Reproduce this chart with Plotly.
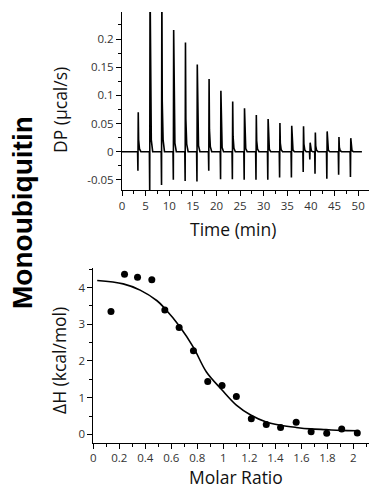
import plotly.graph_objects as go

# ---------------- Data ----------------
# Thermogram: injection events (time in min), peak maxima and troughs (µcal/s)
inj_time = [3.4, 5.9, 8.4, 10.9, 13.4, 15.9, 18.4, 20.9, 23.4, 25.9, 28.4,
            30.9, 33.4, 35.9, 38.4, 39.8, 40.9, 43.4, 45.9, 48.4]
peak_top = [0.070, 0.300, 0.300, 0.216, 0.194, 0.155, 0.129, 0.108, 0.089, 0.077, 0.065,
            0.058, 0.051, 0.046, 0.045, 0.016, 0.034, 0.036, 0.026, 0.024]
peak_low = [-0.034, -0.075, -0.059, -0.050, -0.052, -0.053, -0.034, -0.049, -0.049, -0.050, -0.050,
            -0.050, -0.046, -0.046, -0.036, -0.014, -0.039, -0.048, -0.041, -0.045]
trace_start, trace_end = 0.0, 50.8

# Integrated heats
molar_ratio = [0.136, 0.24, 0.34, 0.45, 0.55, 0.66, 0.77, 0.88, 0.99, 1.10,
               1.215, 1.33, 1.44, 1.56, 1.675, 1.795, 1.91, 2.03]
delta_h = [3.35, 4.36, 4.28, 4.21, 3.39, 2.91, 2.28, 1.44, 1.33, 1.03,
           0.43, 0.27, 0.19, 0.33, 0.07, 0.03, 0.15, 0.04]

# Fitted curve
fit_x = [0.03, 0.23, 0.36, 0.49, 0.55, 0.66, 0.77, 0.87, 0.99, 1.10,
         1.21, 1.33, 1.44, 1.56, 1.67, 1.79, 1.90, 2.03]
fit_y = [4.19, 4.10, 3.93, 3.64, 3.43, 2.96, 2.37, 1.70, 1.21, 0.80,
         0.53, 0.34, 0.25, 0.19, 0.15, 0.13, 0.11, 0.10]

top_xticks = [0, 5, 10, 15, 20, 25, 30, 35, 40, 45, 50]
top_yticks = [-0.05, 0, 0.05, 0.1, 0.15, 0.2]
top_ytext = ["-0.05", "0", "0.05", "0.1", "0.15", "0.2"]
bot_xticks = [0, 0.2, 0.4, 0.6, 0.8, 1, 1.2, 1.4, 1.6, 1.8, 2]
bot_xtext = ["0", "0.2", "0.4", "0.6", "0.8", "1", "1.2", "1.4", "1.6", "1.8", "2"]
bot_yticks = [0, 1, 2, 3, 4]

# ---------------- Build thermogram polyline from peak events ----------------
tx, ty = [trace_start], [0.0]
for t, hi, lo in zip(inj_time, peak_top, peak_low):
    tx += [t - 0.1, t - 0.03, t + 0.04, t + 0.12, t + 0.3, t + 0.6]
    ty += [0.0, lo, hi, hi * 0.3, hi * 0.07, 0.0]
tx.append(trace_end)
ty.append(0.0)

W, H = 369, 490
def px(x): return x / W
def py(y): return 1 - y / H

fig = go.Figure()
fig.add_trace(go.Scatter(x=tx, y=ty, mode="lines", line=dict(color="black", width=1.6),
                         xaxis="x", yaxis="y", showlegend=False, hoverinfo="skip"))
fig.add_trace(go.Scatter(x=fit_x, y=fit_y, mode="lines", line=dict(color="black", width=1.6, shape="spline"),
                         xaxis="x2", yaxis="y2", showlegend=False))
fig.add_trace(go.Scatter(x=molar_ratio, y=delta_h, mode="markers",
                         marker=dict(color="black", size=7),
                         xaxis="x2", yaxis="y2", showlegend=False))

tickfont = dict(family="Open Sans", size=11.5, color="#333333")
common = dict(showline=True, linecolor="black", linewidth=1, ticks="outside", ticklen=5,
              tickcolor="black", tickwidth=1, showgrid=False, zeroline=False,
              tickfont=tickfont, automargin=False)

fig.update_layout(
    width=W, height=H, margin=dict(l=0, r=0, t=0, b=0),
    paper_bgcolor="white", plot_bgcolor="white",
    xaxis=dict(domain=[px(122), 1], range=[0, 52.3], anchor="y",
               tickvals=top_xticks, ticktext=[str(v) for v in top_xticks],
               minor=dict(ticks="outside", ticklen=3, dtick=2.5, tick0=0, tickcolor="black"),
               **common),
    yaxis=dict(domain=[py(190), py(12)], range=[-0.068, 0.248], anchor="x",
               tickvals=top_yticks, ticktext=top_ytext,
               minor=dict(ticks="outside", ticklen=3, dtick=0.025, tick0=0, tickcolor="black"),
               **common),
    xaxis2=dict(domain=[px(93.3), 1], range=[0, 2.12], anchor="y2",
                tickvals=bot_xticks, ticktext=bot_xtext,
                minor=dict(ticks="outside", ticklen=3, dtick=0.1, tick0=0, tickcolor="black"),
                **common),
    yaxis2=dict(domain=[py(442.5), py(267.7)], range=[-0.22, 4.54], anchor="x2",
                tickvals=bot_yticks, ticktext=[str(v) for v in bot_yticks],
                minor=dict(ticks="outside", ticklen=3, dtick=0.5, tick0=0, tickcolor="black"),
                **common),
)

titlefont = dict(family="Open Sans", size=17.5, color="#111111")
ann = [
    dict(text="Time (min)", x=px(233), y=py(229), textangle=0),
    dict(text="Molar Ratio", x=px(236), y=py(477), textangle=0),
    dict(text="DP (µcal/s)", x=px(60), y=py(110), textangle=-90),
    dict(text="ΔH (kcal/mol)", x=px(59), y=py(361), textangle=-90),
]
for a in ann:
    fig.add_annotation(xref="paper", yref="paper", showarrow=False, font=titlefont,
                       xanchor="center", yanchor="middle", **a)
fig.add_annotation(xref="paper", yref="paper", showarrow=False, text="<b>Monoubiquitin</b>",
                   x=px(22), y=py(213), textangle=-90, xanchor="center", yanchor="middle",
                   font=dict(family="Liberation Sans", size=28, color="black"))

fig.write_html("out.html", config={"displayModeBar": False},
               post_script="document.body.style.margin='0px';document.body.style.overflow='hidden';")
